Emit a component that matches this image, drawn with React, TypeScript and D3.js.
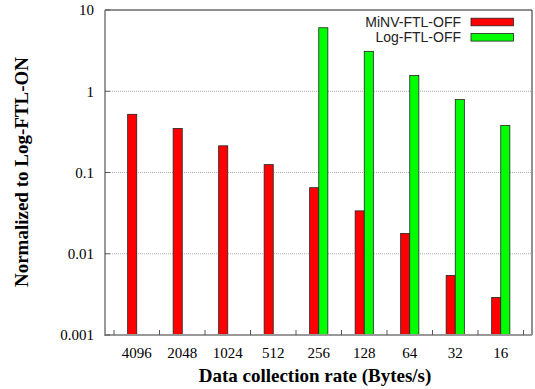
import React, { useEffect, useRef } from "react";
import * as d3 from "d3";

const rates = ["4096", "2048", "1024", "512", "256", "128", "64", "32", "16"];
const minvOff = [0.52, 0.348, 0.213, 0.125, 0.065, 0.0337, 0.0178, 0.0054, 0.0029];
const logOff = [null, null, null, null, 6.05, 3.1, 1.56, 0.79, 0.38];
const yTicks = [0.001, 0.01, 0.1, 1, 10];
const seriesNames = ["MiNV-FTL-OFF", "Log-FTL-OFF"];
const seriesColors = ["#ff0000", "#00ff00"];

const App = () => {
  const svgRef = useRef<SVGSVGElement>(null);

  useEffect(() => {
    const svg = d3.select(svgRef.current);
    svg.selectAll("*").remove();

    const left = 105, right = 532, top = 10, bottom = 335;

    const x = d3.scaleBand().domain(rates).range([114, 523.5]).padding(0);
    const y = d3.scaleLog().domain([0.001, 10]).range([bottom, top]);
    const barW = x.bandwidth() * 0.2;

    // grid lines
    svg.append("g")
      .selectAll("line")
      .data(yTicks.slice(1, -1))
      .join("line")
      .attr("x1", left + 5).attr("x2", right)
      .attr("y1", d => y(d)).attr("y2", d => y(d))
      .attr("stroke", "#999").attr("stroke-width", 0.8)
      .attr("stroke-dasharray", "1,1");

    // frame top/right
    svg.append("path")
      .attr("d", `M${left},${top}H${right}V${bottom}`)
      .attr("fill", "none").attr("stroke", "#222").attr("stroke-width", 1);

    // bars
    const series = [minvOff, logOff];
    series.forEach((vals, si) => {
      svg.append("g")
        .selectAll("rect")
        .data(rates.map((r, i) => ({ r, v: vals[i] })).filter(d => d.v != null))
        .join("rect")
        .attr("x", d => x(d.r)! + x.bandwidth() / 2 + (si - 1) * barW)
        .attr("width", barW)
        .attr("y", d => y(d.v as number))
        .attr("height", d => bottom - y(d.v as number))
        .attr("fill", seriesColors[si])
        .attr("stroke", "#222").attr("stroke-width", 0.8);
    });

    // left & bottom axis lines (gray)
    svg.append("path")
      .attr("d", `M${left},${top}V${bottom}H${right}`)
      .attr("fill", "none").attr("stroke", "#999").attr("stroke-width", 2);

    // y ticks
    const yAxis = svg.append("g");
    yAxis.selectAll("line")
      .data(yTicks)
      .join("line")
      .attr("x1", left).attr("x2", left + 5)
      .attr("y1", d => y(d)).attr("y2", d => y(d))
      .attr("stroke", "#555").attr("stroke-width", 1);
    yAxis.selectAll("text")
      .data(yTicks)
      .join("text")
      .attr("x", 94).attr("y", d => y(d))
      .attr("dy", "0.35em")
      .attr("text-anchor", "end")
      .attr("font-family", "Liberation Serif, serif")
      .attr("font-size", 15)
      .text(d => String(d));

    // x ticks at band edges
    const edges = rates.map(r => x(r)!).concat([x.range()[1]]);
    svg.append("g")
      .selectAll("line")
      .data(edges)
      .join("line")
      .attr("x1", d => d).attr("x2", d => d)
      .attr("y1", bottom).attr("y2", bottom - 5)
      .attr("stroke", "#555").attr("stroke-width", 1);
    svg.append("g")
      .selectAll("text")
      .data(rates)
      .join("text")
      .attr("x", d => x(d)! + x.bandwidth() / 2)
      .attr("y", 358)
      .attr("text-anchor", "middle")
      .attr("font-family", "Liberation Serif, serif")
      .attr("font-size", 15)
      .text(d => d);

    // axis titles
    svg.append("text")
      .attr("x", 315).attr("y", 382)
      .attr("text-anchor", "middle")
      .attr("font-family", "Liberation Serif, serif")
      .attr("font-weight", "bold")
      .attr("font-size", 19)
      .text("Data collection rate (Bytes/s)");
    svg.append("text")
      .attr("transform", "translate(28,172) rotate(-90)")
      .attr("text-anchor", "middle")
      .attr("font-family", "Liberation Serif, serif")
      .attr("font-weight", "bold")
      .attr("font-size", 19)
      .text("Normalized to Log-FTL-ON");

    // legend
    const legend = svg.append("g");
    seriesNames.forEach((name, i) => {
      const cy = 22 + i * 15.3;
      legend.append("text")
        .attr("x", 461).attr("y", cy)
        .attr("dy", "0.35em")
        .attr("text-anchor", "end")
        .attr("font-family", "Liberation Sans, Arial, sans-serif")
        .attr("font-size", 14)
        .attr("fill", "#222")
        .text(name);
      legend.append("rect")
        .attr("x", 471).attr("y", cy - 3.8)
        .attr("width", 42.5).attr("height", 7.6)
        .attr("fill", seriesColors[i])
        .attr("stroke", "#222").attr("stroke-width", 0.8);
    });
  }, []);

  return (
    <svg ref={svgRef} width={535} height={389}
      style={{ position: "absolute", left: 0, top: 0, background: "#fff" }} />
  );
};

export default App;
